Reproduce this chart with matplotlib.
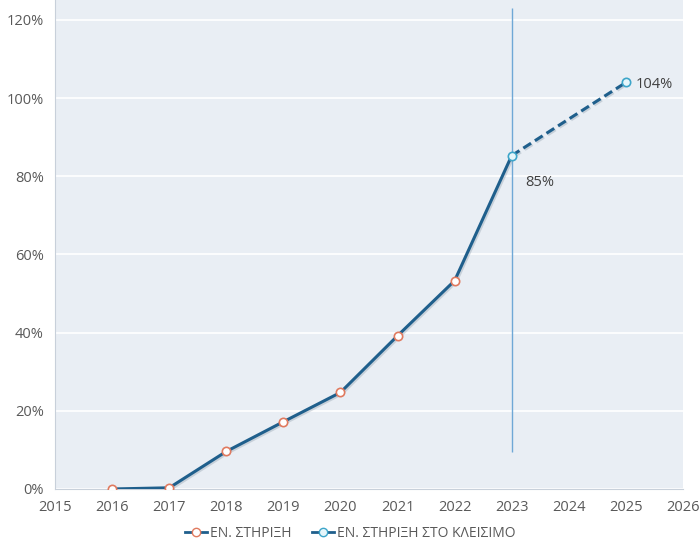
import numpy as np
import matplotlib.pyplot as plt
import matplotlib.patheffects as pe
from matplotlib.lines import Line2D
from matplotlib.ticker import FuncFormatter

# Δεδομένα
years = [2016, 2017, 2018, 2019, 2020, 2021, 2022, 2023]
support = [0.0, 0.3, 9.6, 17.2, 24.7, 39.2, 53.3, 85.3]
close_years = [2023, 2025]
close_support = [85.3, 104.0]
close_labels = ["85%", "104%"]
series_names = ["ΕΝ. ΣΤΗΡΙΞΗ", "ΕΝ. ΣΤΗΡΙΞΗ ΣΤΟ ΚΛΕΙΣΙΜΟ"]
marker_year = 2023
marker_span = [9.5, 123.0]

plt.rcParams["font.family"] = ["Open Sans", "DejaVu Sans"]
text_col = "#595959"
bg = "#E9EEF4"
line_col = "#1F5F8C"

fig = plt.figure(figsize=(7.0, 5.48), dpi=100)
ax = fig.add_axes([0.0786, 0.1077, 0.8971, 0.8923])
ax.set_facecolor(bg)

ax.set_xlim(2015, 2026)
ax.set_ylim(0, 125.1)
ax.set_xticks(np.arange(2015, 2027))
ax.set_yticks(np.arange(0, 121, 20))
ax.yaxis.set_major_formatter(FuncFormatter(lambda v, p: f"{v:.0f}%"))
ax.grid(axis="y", color="white", linewidth=1.2)
ax.set_axisbelow(True)
ax.tick_params(length=0, colors=text_col, labelsize=10.5, pad=8)
for s in ["top", "right"]:
    ax.spines[s].set_visible(False)
for s in ["left", "bottom"]:
    ax.spines[s].set_color("#C8D0DA")

ax.vlines(marker_year, marker_span[0], marker_span[1], color="#6FA8D6", linewidth=1)

shadow = [pe.SimpleLineShadow(offset=(1, -1), shadow_color="#8A99A8", alpha=0.35), pe.Normal()]

ax.plot(close_years, close_support, color=line_col, linewidth=2.2, linestyle=(0, (3, 1.5)),
        path_effects=shadow, zorder=3)
ax.plot(close_years, close_support, linestyle="none", marker="o", markersize=6,
        markerfacecolor="#E6F6FB", markeredgecolor="#3DA5C9", markeredgewidth=1.2, zorder=5)
ax.plot(years, support, color=line_col, linewidth=2.2, path_effects=shadow, zorder=4)
ax.plot(years[:-1], support[:-1], linestyle="none", marker="o", markersize=6,
        markerfacecolor="white", markeredgecolor="#E07A5F", markeredgewidth=1.2, zorder=5)

ax.annotate(close_labels[0], (close_years[0], close_support[0]), xytext=(10, -22),
            textcoords="offset points", color="#404040", fontsize=10.5)
ax.annotate(close_labels[1], (close_years[1], close_support[1]), xytext=(7, -4),
            textcoords="offset points", color="#404040", fontsize=10.5)

handles = [
    Line2D([], [], color=line_col, linewidth=2, marker="o", markersize=6,
           markerfacecolor="white", markeredgecolor="#E07A5F"),
    Line2D([], [], color=line_col, linewidth=2, marker="o", markersize=6,
           markerfacecolor="#E6F6FB", markeredgecolor="#3DA5C9"),
]
leg = fig.legend(handles, series_names, loc="lower center", bbox_to_anchor=(0.5, -0.01), ncol=2,
                 frameon=False, fontsize=10, handlelength=1.6, handletextpad=0.2, columnspacing=1.5)
for t in leg.get_texts():
    t.set_color(text_col)

fig.savefig("out.png", dpi=100)
